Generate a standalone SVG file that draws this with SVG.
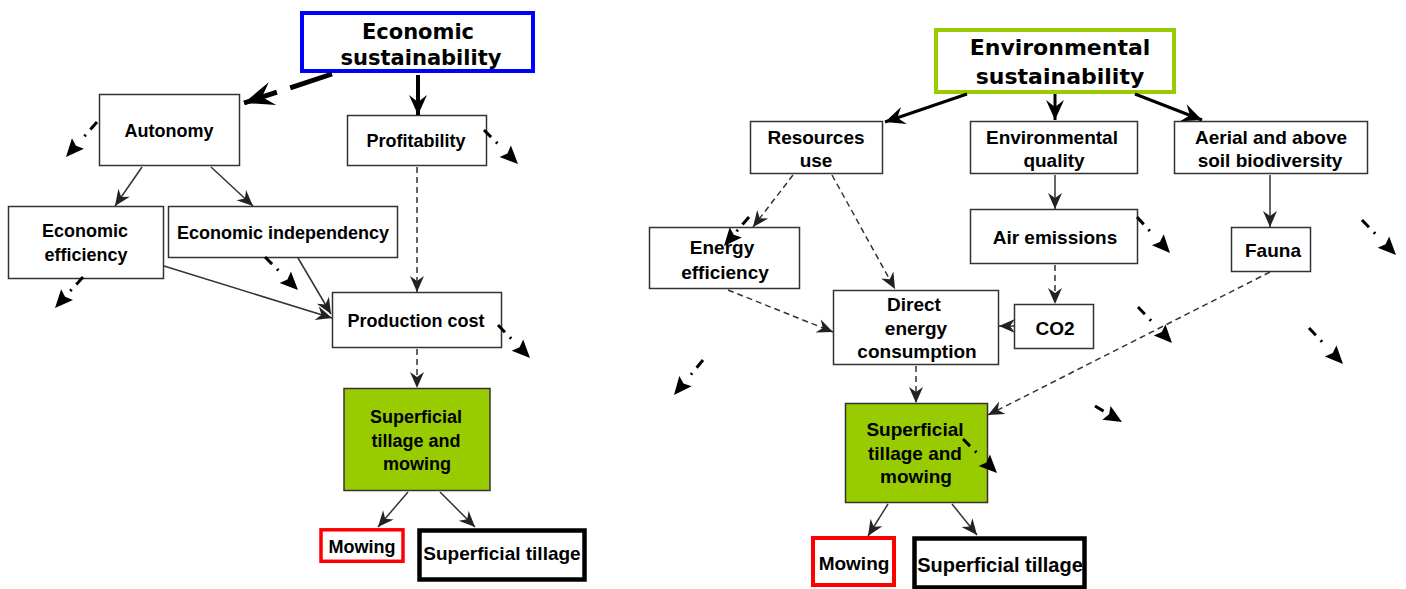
<svg xmlns="http://www.w3.org/2000/svg" width="1406" height="589" viewBox="0 0 1406 589">
<style>
.box{fill:#fff;stroke:#333;stroke-width:1.5}
.green{fill:#99cc00;stroke:#333;stroke-width:1.5}
.t{font-family:"Liberation Sans",Arial,sans-serif;font-weight:bold;font-size:18px;fill:#000;text-anchor:middle}
.tr{font-size:19px}
.title{font-family:"DejaVu Sans",Verdana,sans-serif;font-weight:bold;fill:#000;text-anchor:middle}
.c{fill:none;stroke:#333;stroke-width:1.5}
.d{stroke-dasharray:6 4}
.dd{fill:none;stroke:#000;stroke-width:3;stroke-dasharray:10 7 2 300}
</style>
<defs>
<marker id="ah" viewBox="-18 -9 19 18" refX="0" refY="0" markerWidth="19" markerHeight="18" markerUnits="userSpaceOnUse" orient="auto"><path d="M0,0 L-16,-7 L-11,0 L-16,7 Z" fill="#222"/></marker>
<marker id="ahB" viewBox="-22 -10 23 20" refX="0" refY="0" markerWidth="23" markerHeight="20" markerUnits="userSpaceOnUse" orient="auto"><path d="M0,0 L-20,-9 L-13,0 L-20,9 Z" fill="#000"/></marker>
<marker id="ahH" viewBox="-32 -14 33 28" refX="0" refY="0" markerWidth="33" markerHeight="28" markerUnits="userSpaceOnUse" orient="auto"><path d="M0,0 L-30,-12 L-19,0 L-30,12 Z" fill="#000"/></marker>
<marker id="ahD" viewBox="-19 -9 20 18" refX="0" refY="0" markerWidth="20" markerHeight="18" markerUnits="userSpaceOnUse" orient="auto"><path d="M0,0 L-18,-8 L-15,0 L-18,8 Z" fill="#000"/></marker>
</defs>

<!-- left nodes -->
<g id="econ-sust"><rect x="302" y="13" width="231" height="58" fill="#fff" stroke="#0000ff" stroke-width="4"/><text class="title" font-size="21" x="418" y="39">Economic</text><text class="title" font-size="21" x="421" y="65">sustainability</text></g>
<g id="autonomy"><rect class="box" x="99.5" y="94.5" width="140" height="71"/><text class="t" x="169" y="137">Autonomy</text></g>
<g id="profitability"><rect class="box" x="347.5" y="115.5" width="139" height="50"/><text class="t" x="416" y="147">Profitability</text></g>
<g id="econ-eff"><rect class="box" x="8.5" y="206.5" width="155" height="72"/><text class="t" x="85" y="237">Economic</text><text class="t" x="86" y="261">efficiency</text></g>
<g id="econ-indep"><rect class="box" x="168.5" y="206.5" width="229" height="51"/><text class="t" x="283" y="239">Economic independency</text></g>
<g id="prod-cost"><rect class="box" x="332.5" y="292.5" width="169" height="55"/><text class="t" x="416" y="327">Production cost</text></g>
<g id="stm-left"><rect class="green" x="344" y="388.5" width="146" height="102"/><text class="t" x="416" y="423">Superficial</text><text class="t" x="416" y="447">tillage and</text><text class="t" x="417" y="470">mowing</text></g>
<g id="mowing-left"><rect x="321" y="529.8" width="82" height="31.5" fill="#fff" stroke="#ff0000" stroke-width="3.5"/><text class="t" x="362" y="553">Mowing</text></g>
<g id="till-left"><rect x="419.5" y="530.5" width="165" height="49" fill="#fff" stroke="#000" stroke-width="4.5"/><text class="t" x="502" y="560" style="font-size:19px">Superficial tillage</text></g>

<!-- right nodes -->
<g id="env-sust"><rect x="936" y="30" width="238" height="62" fill="#fff" stroke="#99cc00" stroke-width="4"/><text class="title" font-size="22" x="1060" y="55">Environmental</text><text class="title" font-size="22" x="1060" y="84">sustainability</text></g>
<g id="res-use"><rect class="box" x="750.5" y="121.5" width="132" height="52"/><text class="t tr" x="816" y="144">Resources</text><text class="t tr" x="816" y="167">use</text></g>
<g id="env-qual"><rect class="box" x="970.5" y="121.5" width="167" height="52"/><text class="t tr" x="1052" y="144">Environmental</text><text class="t tr" x="1054" y="167">quality</text></g>
<g id="aerial"><rect class="box" x="1174.5" y="121.5" width="193" height="52"/><text class="t tr" x="1271" y="144">Aerial and above</text><text class="t tr" x="1270" y="167">soil biodiversity</text></g>
<g id="energy-eff"><rect class="box" x="649.5" y="227.5" width="150" height="61"/><text class="t tr" x="722" y="254">Energy</text><text class="t tr" x="725" y="279">efficiency</text></g>
<g id="air-em"><rect class="box" x="970.5" y="209.5" width="167" height="54"/><text class="t tr" x="1055" y="244">Air emissions</text></g>
<g id="fauna"><rect class="box" x="1231.5" y="227.5" width="79" height="44"/><text class="t tr" x="1273" y="257">Fauna</text></g>
<g id="direct"><rect class="box" x="833.5" y="290.5" width="165" height="74"/><text class="t tr" x="914" y="311">Direct</text><text class="t tr" x="916" y="335">energy</text><text class="t tr" x="917" y="358">consumption</text></g>
<g id="co2"><rect class="box" x="1014.5" y="304.5" width="79" height="44"/><text class="t tr" x="1055" y="335">CO2</text></g>
<g id="stm-right"><rect class="green" x="845.5" y="403.5" width="142" height="99"/><text class="t tr" x="915" y="436">Superficial</text><text class="t tr" x="915" y="460">tillage and</text><text class="t tr" x="916" y="483">mowing</text></g>
<g id="mowing-right"><rect x="813" y="538" width="81" height="47" fill="#fff" stroke="#ff0000" stroke-width="4"/><text class="t tr" x="854" y="570">Mowing</text></g>
<g id="till-right"><rect x="914.5" y="538.5" width="170" height="49" fill="#fff" stroke="#000" stroke-width="4.5"/><text class="t" x="1000" y="572" style="font-size:20px">Superficial tillage</text></g>

<g id="connectors">
<!-- left -->
<path d="M332,74 L244,103" fill="none" stroke="#000" stroke-width="5" stroke-dasharray="44 14 300" marker-end="url(#ahH)"/>
<path d="M418,75 L418,115" fill="none" stroke="#000" stroke-width="4" marker-end="url(#ahB)"/>
<path class="c" d="M142,167 L115,206" marker-end="url(#ah)"/>
<path class="c" d="M211,167 L253,206" marker-end="url(#ah)"/>
<path class="c d" d="M417,167 L417,292" marker-end="url(#ah)"/>
<path class="c" d="M164,266 L332,318" marker-end="url(#ah)"/>
<path class="c" d="M298,258 L331,314" marker-end="url(#ah)"/>
<path class="c d" d="M417,349 L417,388" marker-end="url(#ah)"/>
<path class="c" d="M408,492 L378,527" marker-end="url(#ah)"/>
<path class="c" d="M440,492 L475,527" marker-end="url(#ah)"/>
<!-- right -->
<path d="M967,94 L885,122" fill="none" stroke="#000" stroke-width="3" marker-end="url(#ahB)"/>
<path d="M1055,94 L1055,120" fill="none" stroke="#000" stroke-width="3" marker-end="url(#ahB)"/>
<path d="M1135,94 L1202,120" fill="none" stroke="#000" stroke-width="3" marker-end="url(#ahB)"/>
<path class="c d" d="M793,175 L753,227" marker-end="url(#ah)"/>
<path class="c d" d="M832,175 L895,289" marker-end="url(#ah)"/>
<path class="c" d="M1055,175 L1055,209" marker-end="url(#ah)"/>
<path class="c" d="M1270,175 L1270,227" marker-end="url(#ah)"/>
<path class="c d" d="M1055,265 L1055,304" marker-end="url(#ah)"/>
<path class="c" d="M1014,326 L999,326" marker-end="url(#ah)"/>
<path class="c d" d="M728,290 L833,332" marker-end="url(#ah)"/>
<path class="c d" d="M1270,272 L988,415" marker-end="url(#ah)"/>
<path class="c d" d="M916,366 L916,403" marker-end="url(#ah)"/>
<path class="c" d="M888,504 L868,536" marker-end="url(#ah)"/>
<path class="c" d="M952,504 L977,535" marker-end="url(#ah)"/>
<!-- dash-dot arrows -->
<path class="dd" d="M97,122 L66,157" marker-end="url(#ahD)"/>
<path class="dd" d="M484,130 L518,164" marker-end="url(#ahD)"/>
<path class="dd" d="M83,277 L55,308" marker-end="url(#ahD)"/>
<path class="dd" d="M265,257 L298,290" marker-end="url(#ahD)"/>
<path class="dd" d="M498,325 L530,358" marker-end="url(#ahD)"/>
<path class="dd" d="M749,217 L724,246" marker-end="url(#ahD)"/>
<path class="dd" d="M1137,217 L1170,253" marker-end="url(#ahD)"/>
<path class="dd" d="M1362,220 L1396,255" marker-end="url(#ahD)"/>
<path class="dd" d="M703,360 L674,395" marker-end="url(#ahD)"/>
<path class="dd" d="M1138,307 L1172,343" marker-end="url(#ahD)"/>
<path class="dd" d="M1309,328 L1343,364" marker-end="url(#ahD)"/>
<path class="dd" d="M1095,406 L1122,422" marker-end="url(#ahD)"/>
<path class="dd" d="M963,439 L997,473" marker-end="url(#ahD)"/>
</g>
</svg>
